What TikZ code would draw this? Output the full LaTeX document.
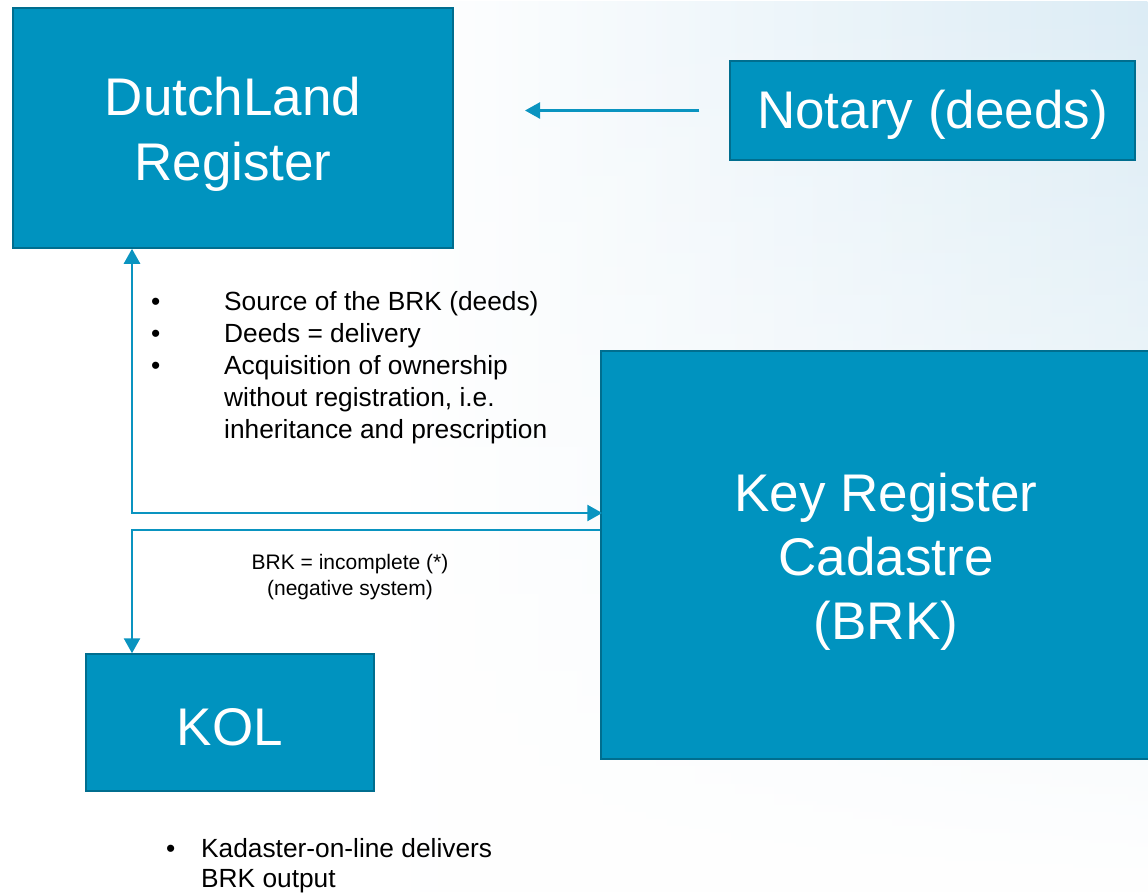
\documentclass[tikz,border=0pt]{standalone}
\usepackage{fontspec}
\setmainfont{Liberation Sans}
\usetikzlibrary{arrows.meta,calc,fadings}
\definecolor{boxfill}{RGB}{0,147,191}
\definecolor{boxedge}{RGB}{0,110,143}
\definecolor{linecol}{RGB}{10,148,192}
\definecolor{bgblue}{RGB}{220,236,245}
\tikzset{
  bigbox/.style={draw=boxedge, line width=1.5pt, fill=boxfill, inner sep=0pt},
  boxtext/.style={text=white, align=center, inner sep=0pt, font=\fontsize{53}{65}\selectfont},
  conn/.style={draw=linecol, line width=2.5pt},
  tip/.style={-{Triangle[length=15pt,width=16pt]}},
  note/.style={anchor=base west, inner sep=0pt, font=\fontsize{26.3}{32}\selectfont},
  smallnote/.style={align=center, inner sep=0pt, font=\fontsize{21}{26}\selectfont},
}
\begin{document}
\begin{tikzpicture}[x=1pt,y=-1pt]
\useasboundingbox (0,0) rectangle (1148,892);
\clip (0,0) rectangle (1148,892);
\fill[white] (0,0) rectangle (1148,892);
\shade[left color=white, right color=bgblue, path fading=south] (400,0) rectangle (1148,892);

% boxes
\node[bigbox, minimum width=440pt, minimum height=240pt] (dl) at (233,128) {};
\node[bigbox, minimum width=405pt, minimum height=99pt] (notary) at (932.5,110.5) {};
\node[bigbox, minimum width=570pt, minimum height=408pt] (brk) at (886,555) {};
\node[bigbox, minimum width=288pt, minimum height=137pt] (kol) at (230,722.5) {};
\node[boxtext] (dlt) at ([yshift=-6pt]dl.center) {DutchLand\\Register};
\node[boxtext] (notaryt) at ([yshift=-4pt]notary.center) {Notary (deeds)};
\node[boxtext, font=\fontsize{53}{64}\selectfont] (brkt) at ([yshift=-7pt]brk.center) {Key Register\\Cadastre\\(BRK)};
\node[boxtext] (kolt) at ([yshift=-5pt]kol.center) {KOL};

% connectors
\coordinate (nend) at (525,111);
\coordinate (c1) at (132,513);
\coordinate (c2) at (132,530);
\draw[conn, tip, shorten <=30pt] (notary.west) -- (notary.west -| nend);
\draw[conn, {Triangle[length=15pt,width=16pt]}-{Triangle[length=15pt,width=16pt]}] (dl.south -| c1) -- (c1) -- ([xshift=2pt]brk.west |- c1);
\draw[conn, tip] (brk.west |- c2) -- (c2) -- (kol.north -| c2);

% notes
\node[note] (b1) at (151,310) {\makebox[73pt][l]{•}Source of the BRK (deeds)};
\node[note] (b2) at (151,342) {\makebox[73pt][l]{•}Deeds = delivery};
\node[note] (b3) at (151,374) {\makebox[73pt][l]{•}Acquisition of ownership};
\node[note] (b4) at (224,406) {without registration, i.e.};
\node[note] (b5) at (224,438) {inheritance and prescription};

\node[smallnote] (inc) at (350,577) {BRK = incomplete (*)\\(negative system)};

\node[note] (k1) at (166,857) {\makebox[35pt][l]{•}Kadaster-on-line delivers};
\node[note] (k2) at (201,887) {BRK output};
\end{tikzpicture}
\end{document}
